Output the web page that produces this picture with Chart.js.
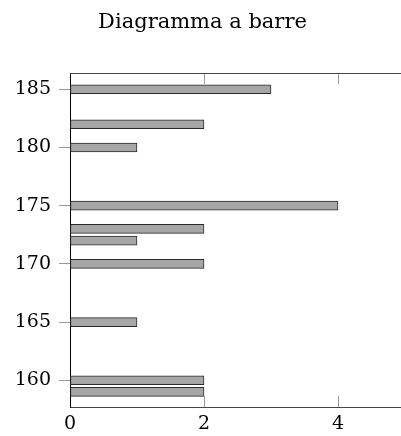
<!DOCTYPE html>
<html lang="it">
  <head>
    <meta charset="UTF-8" />
    <title>Diagramma a barre</title>
    <style>
      html, body { margin: 0; padding: 0; overflow: hidden; background: #fff; }
      .chart-div { width: 414px; height: 436px; }
    </style>
  </head>
  <body>
    <div class="chart-div">
      <canvas id="barChartCanvas" width="414" height="436"></canvas>
    </div>

    <script src="https://cdn.jsdelivr.net/npm/chart.js@4/dist/chart.umd.min.js"></script>
    <script>
        // altezze (cm) e frequenze
        let heights = [159, 160, 165, 170, 172, 173, 175, 180, 182, 185];
        let counts = [2, 2, 1, 2, 1, 2, 4, 1, 2, 3];
        let yTicks = [160, 165, 170, 175, 180, 185];
        let xTicks = [0, 2, 4];

        let serif = "'DejaVu Serif', serif";

        // cornice in stile pgfplots: linea superiore e tacche interne
        let framePlugin = {
            id: 'frame',
            afterDatasetsDraw: function (chart) {
                let ctx = chart.ctx;
                let area = chart.chartArea;
                let xs = chart.scales.x;
                ctx.save();
                ctx.lineWidth = 1;
                ctx.strokeStyle = '#999';
                xTicks.forEach(function (v) {
                    if (v === 0) return;
                    let px = Math.round(xs.getPixelForValue(v)) + 0.5;
                    ctx.beginPath();
                    ctx.moveTo(px, area.bottom);
                    ctx.lineTo(px, area.bottom - 11);
                    ctx.moveTo(px, area.top);
                    ctx.lineTo(px, area.top + 11);
                    ctx.stroke();
                });
                ctx.strokeStyle = '#444';
                ctx.beginPath();
                ctx.moveTo(area.left, area.top + 0.5);
                ctx.lineTo(area.right, area.top + 0.5);
                ctx.stroke();
                ctx.restore();
            }
        };

        let barChartData = {
            datasets: [{
                data: heights.map(function (h, i) { return { x: counts[i], y: h }; }),
                backgroundColor: '#a6a6a6',
                borderColor: '#2b2b2b',
                borderWidth: 1,
                borderSkipped: false,
                barThickness: 9
            }]
        };

        let barChartDraw = function () {
            let ctx = document.getElementById('barChartCanvas').getContext('2d');

            window.barChart = new Chart(ctx, {
                type: 'bar',
                data: barChartData,
                plugins: [framePlugin],
                options: {
                    responsive: false,
                    animation: false,
                    indexAxis: 'y',
                    layout: { padding: { right: 9, top: 0, bottom: 0, left: 0 } },
                    plugins: {
                        legend: { display: false },
                        tooltip: { enabled: false },
                        title: {
                            display: true,
                            text: 'Diagramma a barre',
                            color: '#000',
                            font: { family: serif, size: 21, weight: 'normal', lineHeight: 1.2 },
                            padding: { top: 10, bottom: 37.8 }
                        }
                    },
                    scales: {
                        x: {
                            type: 'linear',
                            position: 'bottom',
                            min: 0,
                            max: 5,
                            afterBuildTicks: function (scale) {
                                scale.ticks = xTicks.map(function (v) { return { value: v }; });
                            },
                            afterFit: function (scale) { scale.height = 29; },
                            grid: { drawOnChartArea: false, drawTicks: false },
                            border: { color: '#444', width: 1 },
                            ticks: {
                                color: '#000',
                                padding: 6,
                                maxRotation: 0,
                                font: { family: serif, size: 19 }
                            }
                        },
                        y: {
                            type: 'linear',
                            offset: false,
                            min: 157.7,
                            max: 186.4,
                            afterBuildTicks: function (scale) {
                                scale.ticks = yTicks.map(function (v) { return { value: v }; });
                            },
                            afterFit: function (scale) { scale.width = 70; },
                            grid: {
                                offset: false,
                                drawOnChartArea: false,
                                drawTicks: true,
                                tickLength: 11,
                                tickColor: '#999'
                            },
                            border: { color: '#000', width: 1 },
                            ticks: {
                                color: '#000',
                                padding: 8,
                                font: { family: serif, size: 19 }
                            }
                        }
                    }
                }
            });
        };

        window.onload = function () {
            barChartDraw();
        };
    </script>
  </body>
</html>
